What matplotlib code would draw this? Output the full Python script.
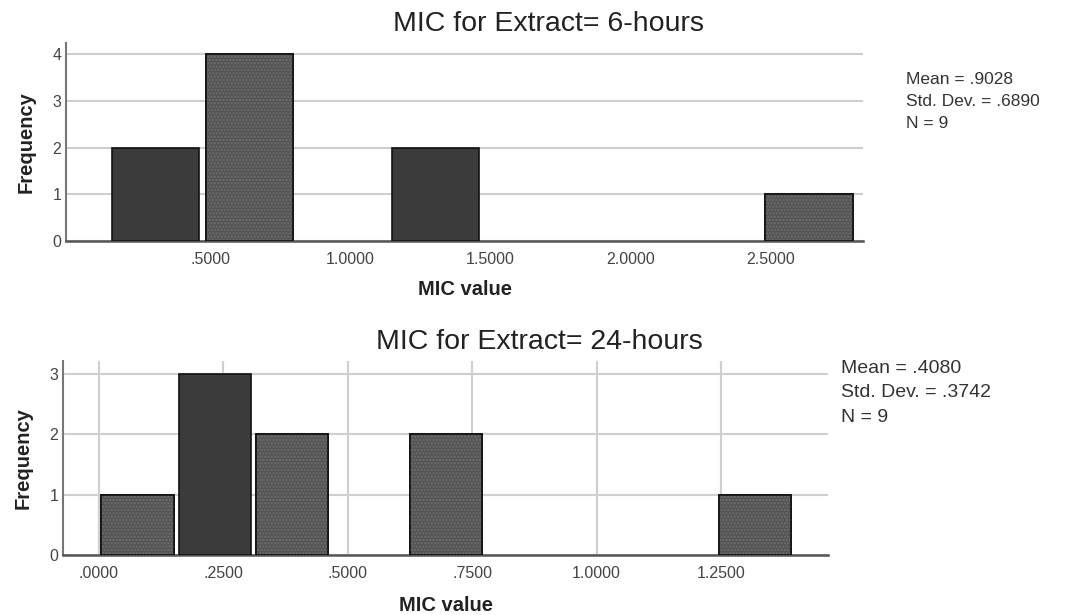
import numpy as np
import matplotlib.pyplot as plt

plt.rcParams['font.family'] = ['Liberation Sans', 'DejaVu Sans']

# 6-hours histogram
edges_6h = [0.14, 0.473, 0.806, 1.139, 1.472, 1.805, 2.138, 2.471, 2.804]
counts_6h = [2, 4, 0, 2, 0, 0, 0, 1]
textured_6h = [False, True, False, True]
ticks_6h = [0.5, 1.0, 1.5, 2.0, 2.5]
labels_6h = ['.5000', '1.0000', '1.5000', '2.0000', '2.5000']
stats_6h = 'Mean = .9028\nStd. Dev. = .6890\nN = 9'

# 24-hours histogram
edges_24h = [0.0, 0.155, 0.31, 0.465, 0.62, 0.775, 0.93, 1.085, 1.24, 1.395]
counts_24h = [1, 3, 2, 0, 2, 0, 0, 0, 1]
textured_24h = [True, False, True, True, True]
ticks_24h = [0.0, 0.25, 0.5, 0.75, 1.0, 1.25]
labels_24h = ['.0000', '.2500', '.5000', '.7500', '1.0000', '1.2500']
stats_24h = 'Mean = .4080\nStd. Dev. = .3742\nN = 9'

fig = plt.figure(figsize=(10.74, 6.15), dpi=100)
ax1 = fig.add_axes([0.0615, 0.608, 0.742, 0.322])
ax2 = fig.add_axes([0.0587, 0.0976, 0.7123, 0.3154])


def draw_hist(ax, edges, counts, textured, gap):
    left = np.array(edges[:-1])
    width = np.diff(edges)
    k = 0
    for x, w, c in zip(left, width, counts):
        if c == 0:
            continue
        ax.bar(x + gap / 2, c, width=w - gap, align='edge', color='#3b3b3b',
               edgecolor='#111111', linewidth=1.2, zorder=3)
        if textured[k]:
            ax.bar(x + gap / 2, c, width=w - gap, align='edge', color='#555555',
                   edgecolor='#6e6e6e', hatch='.....', linewidth=0, zorder=3)
            ax.bar(x + gap / 2, c, width=w - gap, align='edge', fill=False,
                   edgecolor='#111111', linewidth=1.2, zorder=4)
        k += 1


draw_hist(ax1, edges_6h, counts_6h, textured_6h, 0.022)
draw_hist(ax2, edges_24h, counts_24h, textured_24h, 0.01)

ax1.set_xlim(-0.014, 2.83)
ax1.set_ylim(0, 4.235)
ax1.set_yticks([0, 1, 2, 3, 4])
ax1.set_xticks(ticks_6h)
ax1.set_xticklabels(labels_6h)
ax1.yaxis.grid(True, color='#cfcfcf', linewidth=1.5, zorder=0)

ax2.set_xlim(-0.072, 1.465)
ax2.set_ylim(0, 3.215)
ax2.set_yticks([0, 1, 2, 3])
ax2.set_xticks(ticks_24h)
ax2.set_xticklabels(labels_24h)
ax2.grid(True, color='#cfcfcf', linewidth=1.5, zorder=0)

for ax, title in [(ax1, 'MIC for Extract= 6-hours'), (ax2, 'MIC for Extract= 24-hours')]:
    ax.set_axisbelow(True)
    for s in ['top', 'right']:
        ax.spines[s].set_visible(False)
    ax.spines['left'].set_color('#777777')
    ax.spines['left'].set_linewidth(1.5)
    ax.spines['bottom'].set_color('#555555')
    ax.spines['bottom'].set_linewidth(1.8)
    ax.tick_params(axis='both', length=0, labelsize=11.5, labelcolor='#444444')
    ax.tick_params(axis='x', pad=8)
    ax.set_ylabel('Frequency', fontsize=14.5, fontweight='bold', color='#222222', labelpad=12)
    ax.set_title(title, fontsize=20.5, color='#222222', pad=9)

ax1.set_xlabel('MIC value', fontsize=14.5, fontweight='bold', color='#222222', labelpad=9)
ax2.set_xlabel('MIC value', fontsize=14.5, fontweight='bold', color='#222222', labelpad=11)
ax1.title.set_position((0.605, 1.0))
ax2.title.set_position((0.623, 1.0))

fig.text(0.8435, 0.883, stats_6h, fontsize=12.5, color='#333333', va='top', linespacing=1.6)
fig.text(0.783, 0.415, stats_24h, fontsize=14, color='#333333', va='top', linespacing=1.58)

fig.savefig('out.png', dpi=100)
